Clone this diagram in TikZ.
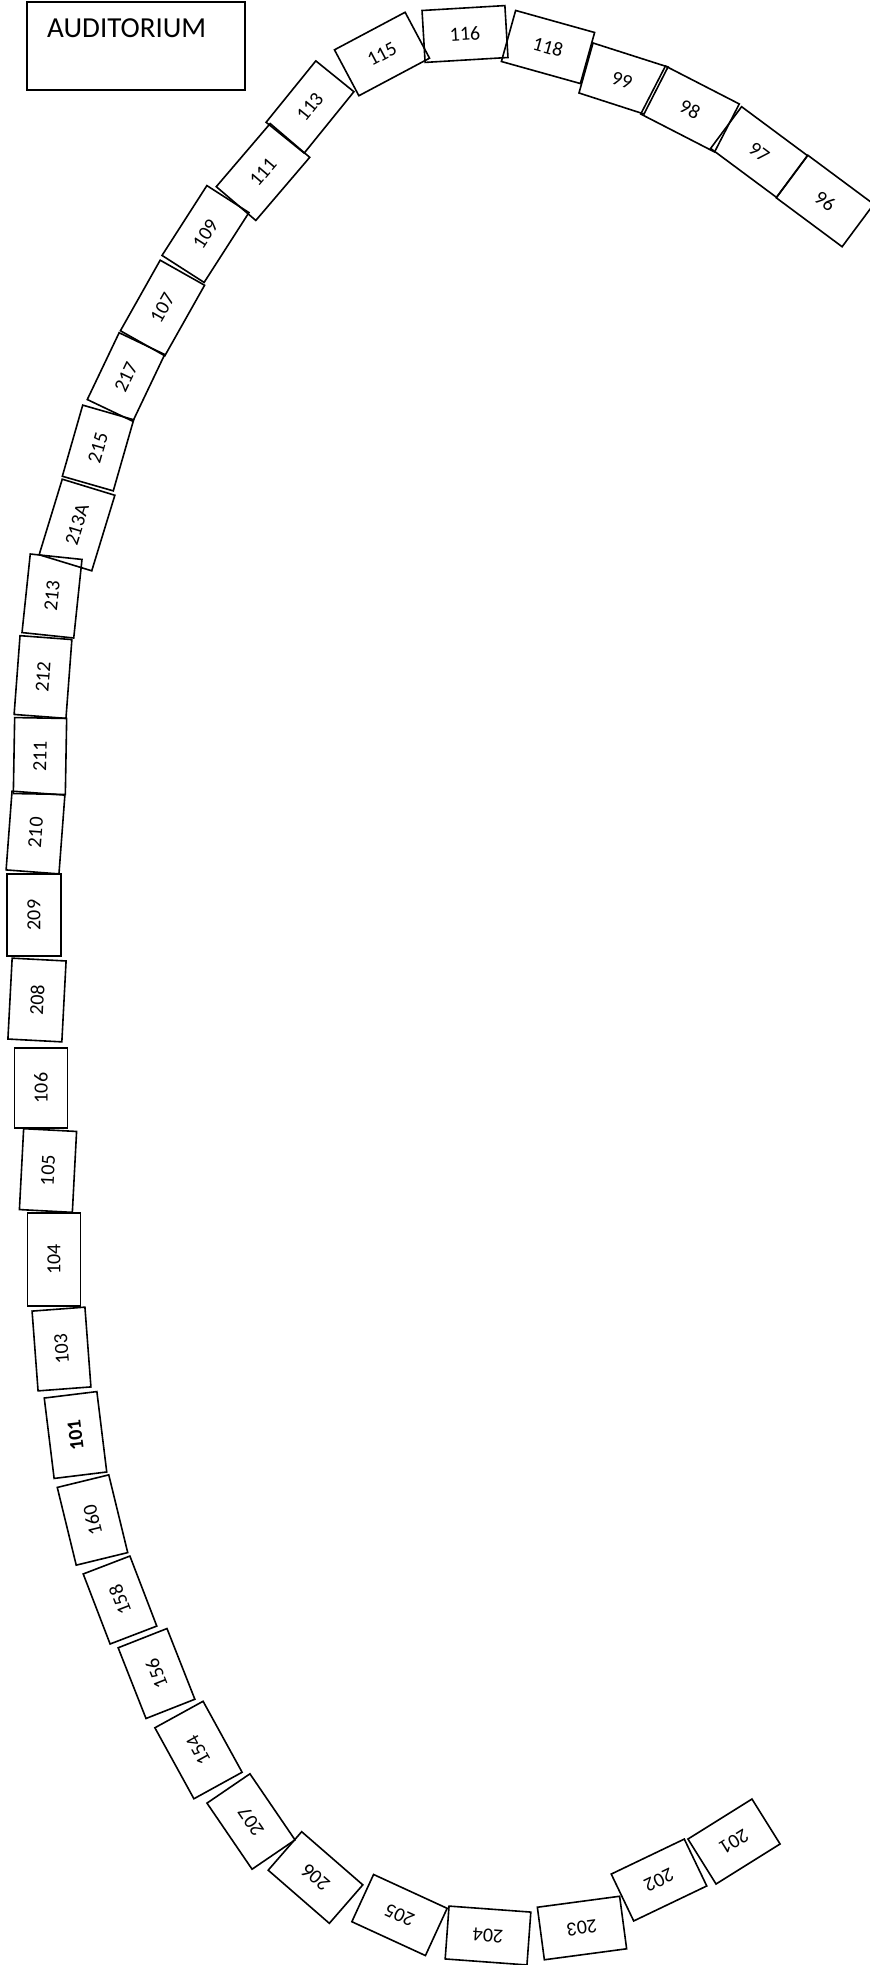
\documentclass[tikz,border=0pt]{standalone}
\usepackage{fontspec}
\setmainfont{Carlito}
\newcommand{\roomfnt}{\fontsize{20}{20}\selectfont}
\tikzset{
  room/.style={draw, line width=1.6pt, inner sep=0pt, minimum width=81pt, minimum height=53pt, font=\roomfnt},
  roomline/.style={draw, line width=1.6pt, line join=miter},
  roomtext/.style={inner sep=0pt, font=\roomfnt},
  audbox/.style={draw, line width=1.6pt, inner sep=0pt, minimum width=218pt, minimum height=88pt, anchor=north west},
}
\begin{document}
\begin{tikzpicture}[x=1pt,y=-1pt]
\useasboundingbox (0,0) rectangle (870,1965);
% auditorium
\node[audbox] (aud) at (26,1) {};
\node[anchor=base west, inner sep=0pt, font=\fontsize{29}{29}\selectfont] (audlbl) at (47,37) {AUDITORIUM};
% rooms along the curve
\node[room, rotate=-36.6, minimum width=82pt, minimum height=53pt] (r96) at (825,201) {96};
\node[room, rotate=-36.6, minimum width=82pt, minimum height=52pt] (r97) at (759,152) {97};
\node[room, rotate=-27.2, minimum width=83pt, minimum height=54pt] (r98) at (690,109) {98};
% room 99 is a slightly skewed quadrilateral
\coordinate (c99a) at (593,43);
\coordinate (c99b) at (668,67);
\coordinate (c99c) at (644,114);
\coordinate (c99d) at (579,93);
\draw[roomline] (c99a) -- (c99b) -- (c99c) -- (c99d) -- cycle;
\node[roomtext, rotate=-17.5] (r99) at (622,80) {99};
\node[room, rotate=-15.6, minimum width=82pt, minimum height=53pt] (r118) at (548,47) {118};
\node[room, rotate=3.4, minimum width=83pt, minimum height=52pt] (r116) at (465,34) {116};
\node[room, rotate=28, minimum width=80pt, minimum height=52pt] (r115) at (382,54) {115};
\node[room, rotate=51, minimum width=79pt, minimum height=49pt] (r113) at (310,107) {113};
\node[room, rotate=49.5, minimum width=83pt, minimum height=52pt] (r111) at (263,172) {111};
\node[room, rotate=57.3, minimum width=83pt, minimum height=50pt] (r109) at (205.5,234) {109};
\node[room, rotate=60.6, minimum width=81pt, minimum height=51pt] (r107) at (162.5,308) {107};
\node[room, rotate=64.5, minimum width=74pt, minimum height=50.5pt] (r217) at (126,377) {217};
\node[room, rotate=74, minimum width=74pt, minimum height=53pt] (r215) at (98,448) {215};
\node[room, rotate=73, minimum width=79pt, minimum height=55pt] (r213A) at (77,525) {213A};
\node[room, rotate=84, minimum width=79pt, minimum height=52pt] (r213) at (52,596) {213};
\node[room, rotate=85.7, minimum width=79pt, minimum height=52pt] (r212) at (43,677) {212};
\node[room, rotate=89, minimum width=76pt, minimum height=52pt] (r211) at (40,756) {211};
\node[room, rotate=85.7, minimum width=79pt, minimum height=53pt] (r210) at (35.5,832.5) {210};
\node[room, rotate=90, minimum width=82pt, minimum height=54pt] (r209) at (34,915) {209};
\node[room, rotate=87, minimum width=81pt, minimum height=54pt] (r208) at (37,1000) {208};
\node[room, rotate=90, minimum width=80pt, minimum height=53pt] (r106) at (41,1088) {106};
\node[room, rotate=87, minimum width=81pt, minimum height=53pt] (r105) at (48,1170.5) {105};
\node[room, rotate=90, minimum width=93pt, minimum height=53pt] (r104) at (54,1259.5) {104};
\node[room, rotate=94.3, minimum width=80pt, minimum height=53pt] (r103) at (61.5,1349) {103};
\node[room, rotate=97, minimum width=81pt, minimum height=53pt, font=\roomfnt\bfseries] (r101) at (75.5,1435) {101};
\node[room, rotate=103.7, minimum width=80pt, minimum height=53pt] (r160) at (92.5,1520) {160};
\node[room, rotate=111, minimum width=75pt, minimum height=50pt] (r158) at (120,1600) {158};
\node[room, rotate=111.5, minimum width=76pt, minimum height=52.5pt] (r156) at (156.5,1673.5) {156};
\node[room, rotate=118.8, minimum width=81pt, minimum height=55pt] (r154) at (198.5,1750) {154};
\node[room, rotate=124.3, minimum width=80pt, minimum height=52pt] (r207) at (251,1821.5) {207};
\node[room, rotate=139, minimum width=81pt, minimum height=51pt] (r206) at (315.5,1877.5) {206};
\node[room, rotate=155.3, minimum width=81pt, minimum height=52pt] (r205) at (399.5,1915) {205};
\node[room, rotate=175.8, minimum width=82pt, minimum height=53pt] (r204) at (488,1935.5) {204};
\node[room, rotate=187.6, minimum width=83pt, minimum height=53pt] (r203) at (582,1928) {203};
\node[room, rotate=205.6, minimum width=81pt, minimum height=52pt] (r202) at (659,1880) {202};
\node[room, rotate=212, minimum width=75.5pt, minimum height=53pt] (r201) at (734,1841.5) {201};
\end{tikzpicture}
\end{document}
